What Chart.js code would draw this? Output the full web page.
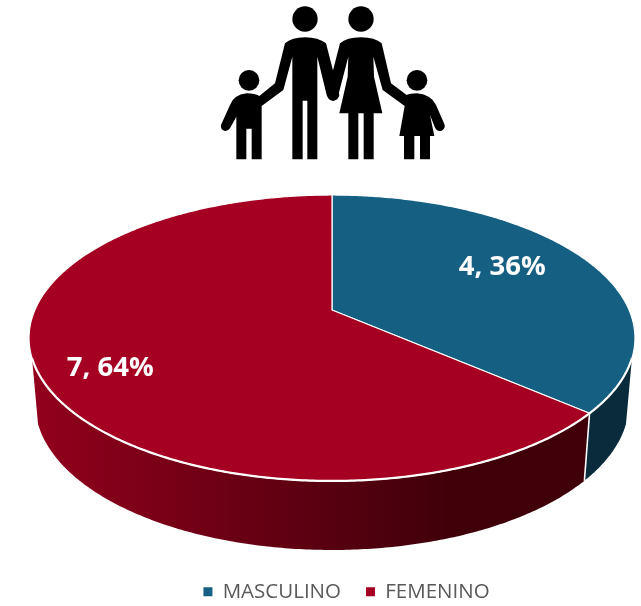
<!DOCTYPE html>
<html>
<head>
<meta charset="utf-8">
<style>
  body { margin: 0; background: #fff; }
  #wrap { position: relative; width: 641px; height: 606px; }
  #family { position: absolute; left: 200px; top: 0; }
</style>
<script src="https://cdn.jsdelivr.net/npm/chart.js@4"></script>
</head>
<body>
<div id="wrap">
  <canvas id="chart" width="641" height="606"></canvas>
  <svg id="family" width="260" height="170" viewBox="0 0 780 510">
    <circle cx="315" cy="57" r="38"/>
    <circle cx="483" cy="57" r="38"/>
    <circle cx="147" cy="241" r="31"/>
    <circle cx="651" cy="241" r="31"/>
    <path d="M255 130 Q275 112 315 112 Q355 112 378 130 L400 215 L418 285 Q415 302 398 302 Q385 302 380 285 L352 170 L352 478 L322 478 L322 302 L308 302 L308 478 L277 478 L277 170 L250 270 L185 318 L185 478 L155 478 L155 386 L139 386 L139 478 L109 478 L109 350 L90 385 Q80 398 68 390 Q58 380 66 368 L90 315 Q100 285 140 280 Q165 280 178 288 L225 250 Z"/>
    <path d="M420 130 Q440 112 483 112 Q525 112 545 130 L573 250 L620 285 Q630 280 651 280 Q695 285 708 315 L733 372 Q738 385 725 392 Q712 396 705 383 L690 345 L703 408 L690 408 L690 478 L660 478 L660 408 L643 408 L643 478 L612 478 L612 408 L598 408 L614 318 L548 270 L520 170 L522 230 L547 340 L521 340 L521 478 L491 478 L491 340 L475 340 L475 478 L445 478 L445 340 L418 340 L443 230 L445 170 L415 285 Q411 302 398 302 L398 215 Z"/>
  </svg>
</div>
<script>
const categories = ['MASCULINO', 'FEMENINO'];
const values = [4, 7];
const sliceColors = ['#156082', '#A50021'];

// perspective of the tilted disc: unit circle -> screen
const CX = 332, APEX_Y = 310, PERSP = -0.1958, SCALE_X = 297.1, SCALE_Y = 76.8;
// wall is only visible below this sine of the angle
const WALL_MIN_SIN = 0.327;

function project(angle, r) {
    const u = Math.cos(angle) * r, v = Math.sin(angle) * r;
    const w = 1 + PERSP * v;
    return { x: CX + SCALE_X * u / w, y: (SCALE_Y * v + APEX_Y) / w };
}

function projectLow(angle) {
    const p = project(angle, 1);
    return { x: CX + (p.x - CX) * 0.98, y: p.y + 64.5 + 4.5 * Math.sin(angle) };
}

function anglesBetween(a, b) {
    const list = [];
    const n = Math.max(2, Math.ceil(Math.abs(b - a) / 0.01));
    for (let i = 0; i <= n; i++) list.push(a + (b - a) * i / n);
    return list;
}

// replace the flat arc drawing with the tilted one, angles still come from the library
const ArcEl = Chart.registry.getElement('arc');
ArcEl.prototype.draw = function(ctx) {
    const { startAngle, endAngle } = this.getProps(['startAngle', 'endAngle']);
    const apex = project(0, 0);
    ctx.save();
    ctx.beginPath();
    ctx.moveTo(apex.x, apex.y);
    anglesBetween(startAngle, endAngle).forEach(a => {
        const p = project(a, 1);
        ctx.lineTo(p.x, p.y);
    });
    ctx.closePath();
    ctx.fillStyle = this.options.backgroundColor;
    ctx.fill();
    ctx.strokeStyle = '#fff';
    ctx.lineWidth = 1.2;
    ctx.lineJoin = 'round';
    ctx.stroke();
    ctx.restore();
};

const wallPlugin = {
    id: 'wall',
    beforeDatasetsDraw(chart) {
        const ctx = chart.ctx;
        const aMin = Math.asin(WALL_MIN_SIN), aMax = Math.PI - aMin;
        chart.getDatasetMeta(0).data.forEach((arc, i) => {
            const a = Math.max(arc.startAngle, aMin), b = Math.min(arc.endAngle, aMax);
            if (b <= a) return;
            const steps = anglesBetween(a, b);
            ctx.save();
            ctx.beginPath();
            steps.forEach((t, k) => {
                const p = project(t, 1);
                if (k === 0) ctx.moveTo(p.x, p.y); else ctx.lineTo(p.x, p.y);
            });
            steps.slice().reverse().forEach(t => {
                const p = projectLow(t);
                ctx.lineTo(p.x, p.y);
            });
            ctx.closePath();
            if (i === 0) {
                ctx.fillStyle = '#0A2B3B';
            } else {
                const g = ctx.createLinearGradient(30, 0, 585, 0);
                g.addColorStop(0, '#93001D');
                g.addColorStop(0.76, '#3F000A');
                g.addColorStop(1, '#3F000A');
                ctx.fillStyle = g;
            }
            ctx.fill();
            ctx.restore();
        });
        // white seam where the two slices meet on the wall
        const arcs = chart.getDatasetMeta(0).data;
        const top = project(arcs[0].endAngle, 1), low = projectLow(arcs[0].endAngle);
        ctx.save();
        ctx.strokeStyle = '#fff';
        ctx.lineWidth = 1.6;
        ctx.beginPath();
        ctx.moveTo(top.x, top.y);
        ctx.lineTo(low.x, low.y);
        ctx.stroke();
        ctx.restore();
    },
    afterDatasetsDraw(chart) {
        const ctx = chart.ctx;
        const aMin = Math.asin(WALL_MIN_SIN), aMax = Math.PI - aMin;
        const total = values.reduce((s, v) => s + v, 0);
        const radii = [0.70, 0.79];
        ctx.save();
        // bright rim over the front wall
        ctx.strokeStyle = '#fff';
        ctx.lineWidth = 2.2;
        ctx.beginPath();
        anglesBetween(aMin, aMax).forEach((t, k) => {
            const p = project(t, 1);
            if (k === 0) ctx.moveTo(p.x, p.y); else ctx.lineTo(p.x, p.y);
        });
        ctx.stroke();
        ctx.fillStyle = '#fff';
        ctx.font = 'bold 27.5px "Open Sans"';
        ctx.textAlign = 'center';
        ctx.textBaseline = 'middle';
        chart.getDatasetMeta(0).data.forEach((arc, i) => {
            const mid = (arc.startAngle + arc.endAngle) / 2 - 0.08;
            const p = project(mid, radii[i]);
            ctx.fillText(values[i] + ', ' + Math.round(values[i] / total * 100) + '%', p.x, p.y + 1);
        });
        ctx.restore();
    }
};

new Chart(document.getElementById('chart'), {
    type: 'pie',
    data: {
        labels: categories,
        datasets: [{ data: values, backgroundColor: sliceColors, borderWidth: 0 }]
    },
    options: {
        responsive: false,
        animation: false,
        layout: { padding: { left: 52, bottom: -6 } },
        plugins: {
            tooltip: { enabled: false },
            legend: {
                position: 'bottom',
                labels: {
                    boxWidth: 9,
                    boxHeight: 9,
                    padding: 25,
                    color: '#595959',
                    font: { family: '"Open Sans"', size: 20.5 }
                }
            }
        }
    },
    plugins: [wallPlugin]
});
</script>
</body>
</html>
